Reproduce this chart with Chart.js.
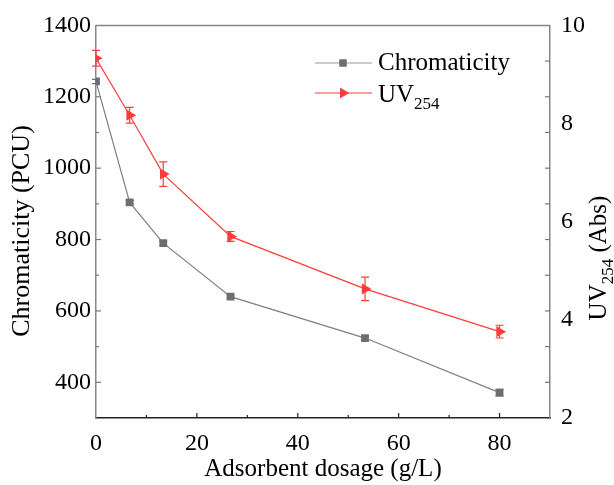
<!DOCTYPE html>
<html>
<head>
<meta charset="utf-8">
<script src="https://cdn.jsdelivr.net/npm/chart.js@4.4.1/dist/chart.umd.min.js"></script>
<style>
  html, body { margin: 0; padding: 0; background: #fff; }
</style>
</head>
<body>
<canvas id="grafico" width="614" height="485"></canvas>
<script>
// dados
const dosage = [0, 6.67, 13.33, 26.67, 53.33, 80]
const chromaticity = [1243, 904, 790, 640, 524, 371]
const chromaErr = [6, 6, 6, 5, 5, 9]
const uv254 = [9.33, 8.17, 6.97, 5.70, 4.63, 3.76]
const uvErr = [0.16, 0.16, 0.25, 0.10, 0.24, 0.13]

const xTicks = [0, 20, 40, 60, 80]
const leftTicks = [400, 600, 800, 1000, 1200, 1400]
const rightTicks = [2, 4, 6, 8, 10]

const FONT = '"Liberation Serif", "Times New Roman", serif'
const GRAY = '#6e6e6e'
const RED = '#ff3c3c'

Chart.defaults.font.family = FONT
Chart.defaults.color = '#000'

// texto com subscrito "254"
function drawUV(ctx, x, y, size, tail, align) {
  ctx.font = size + 'px ' + FONT
  const w1 = ctx.measureText('UV').width
  ctx.font = Math.round(size * 0.68) + 'px ' + FONT
  const w2 = ctx.measureText('254').width
  ctx.font = size + 'px ' + FONT
  const w3 = ctx.measureText(tail).width
  let x0 = align === 'center' ? x - (w1 + w2 + w3) / 2 : x
  ctx.textAlign = 'left'
  ctx.textBaseline = 'alphabetic'
  ctx.fillText('UV', x0, y)
  ctx.font = Math.round(size * 0.68) + 'px ' + FONT
  ctx.fillText('254', x0 + w1, y + size * 0.28)
  ctx.font = size + 'px ' + FONT
  ctx.fillText(tail, x0 + w1 + w2, y)
}

const decor = {
  id: 'decor',
  afterDatasetsDraw(chart) {
    const ctx = chart.ctx
    const xs = chart.scales.x, ys = chart.scales.y, yr = chart.scales.y1
    ctx.save()
    ctx.lineWidth = 1.2
    const bars = [
      [chromaticity, chromaErr, ys, GRAY],
      [uv254, uvErr, yr, RED]
    ]
    bars.forEach(([vals, errs, sc, col]) => {
      ctx.strokeStyle = col
      vals.forEach((v, i) => {
        const px = xs.getPixelForValue(dosage[i])
        const top = sc.getPixelForValue(v + errs[i])
        const bot = sc.getPixelForValue(v - errs[i])
        ctx.beginPath()
        ctx.moveTo(px, top); ctx.lineTo(px, bot)
        ctx.moveTo(px - 4, top); ctx.lineTo(px + 4, top)
        ctx.moveTo(px - 4, bot); ctx.lineTo(px + 4, bot)
        ctx.stroke()
      })
    })
    ctx.restore()
  },
  afterDraw(chart) {
    const ctx = chart.ctx
    const a = chart.chartArea
    const xs = chart.scales.x, ys = chart.scales.y
    ctx.save()

    // moldura superior
    ctx.strokeStyle = '#888'
    ctx.lineWidth = 1.5
    ctx.beginPath()
    ctx.moveTo(a.left, a.top); ctx.lineTo(a.right, a.top)
    ctx.stroke()

    // ticks para dentro
    ctx.lineWidth = 1.2
    ctx.strokeStyle = '#222'
    for (let v = 10; v < 90; v += 10) {
      const px = xs.getPixelForValue(v)
      const len = v % 20 === 0 ? 5 : 3
      ctx.beginPath(); ctx.moveTo(px, a.bottom); ctx.lineTo(px, a.bottom - len); ctx.stroke()
    }
    ctx.strokeStyle = '#777'
    for (let v = 400; v < 1400; v += 100) {
      const py = ys.getPixelForValue(v)
      const len = v % 200 === 0 ? 5 : 3
      ctx.beginPath(); ctx.moveTo(a.left, py); ctx.lineTo(a.left + len, py); ctx.stroke()
      ctx.beginPath(); ctx.moveTo(a.right, py); ctx.lineTo(a.right - 5, py); ctx.stroke()
    }

    // títulos dos eixos
    ctx.fillStyle = '#000'
    ctx.font = '25px ' + FONT
    ctx.textAlign = 'center'
    ctx.textBaseline = 'middle'
    ctx.fillText('Adsorbent dosage (g/L)', (a.left + a.right) / 2, 469)

    ctx.save()
    ctx.translate(22, 231)
    ctx.rotate(-Math.PI / 2)
    ctx.font = '26px ' + FONT
    ctx.fillText('Chromaticity (PCU)', 0, 0)
    ctx.restore()

    ctx.save()
    ctx.translate(606, 258)
    ctx.rotate(-Math.PI / 2)
    drawUV(ctx, 0, 0, 25, ' (Abs)', 'center')
    ctx.restore()

    // legenda
    const rows = [[63, '#999', GRAY, 'rect'], [93, RED, RED, 'triangle']]
    rows.forEach(([y, lineCol, col, style]) => {
      ctx.strokeStyle = lineCol
      ctx.fillStyle = col
      ctx.lineWidth = 1.2
      ctx.beginPath(); ctx.moveTo(315, y); ctx.lineTo(372, y); ctx.stroke()
      Chart.helpers.drawPoint(ctx, {
        pointStyle: style, radius: style === 'rect' ? 5 : 6,
        rotation: style === 'rect' ? 0 : 90, borderWidth: 0
      }, 343, y)
      ctx.fill()
    })
    ctx.fillStyle = '#000'
    ctx.font = '25px ' + FONT
    ctx.textAlign = 'left'
    ctx.textBaseline = 'middle'
    ctx.fillText('Chromaticity', 378, 63)
    drawUV(ctx, 378, 102, 25, '', 'left')

    ctx.restore()
  }
}

const data = {
  datasets: [{
    label: 'Chromaticity',
    data: dosage.map((x, i) => ({ x, y: chromaticity[i] })),
    yAxisID: 'y',
    borderColor: '#808080',
    borderWidth: 1.2,
    backgroundColor: GRAY,
    pointStyle: 'rect',
    pointRadius: 5.5,
    pointBorderWidth: 0
  }, {
    label: 'UV254',
    data: dosage.map((x, i) => ({ x, y: uv254[i] })),
    yAxisID: 'y1',
    borderColor: RED,
    borderWidth: 1.2,
    backgroundColor: RED,
    pointStyle: 'triangle',
    rotation: 90,
    pointRadius: 6.5,
    pointBorderWidth: 0
  }]
}

const tickFont = { family: FONT, size: 24 }
const plain = v => String(v)

const config = {
  type: 'line',
  data,
  options: {
    responsive: false,
    animation: false,
    devicePixelRatio: 1,
    layout: { padding: { top: 22, left: 0, right: 0, bottom: 0 } },
    plugins: { legend: { display: false }, tooltip: { enabled: false } },
    scales: {
      x: {
        type: 'linear', position: 'bottom', min: 0, max: 90,
        grid: { display: false, drawTicks: false },
        border: { color: '#222', width: 1.5 },
        ticks: { font: tickFont, padding: 11, callback: plain },
        afterBuildTicks: s => { s.ticks = xTicks.map(v => ({ value: v })) },
        afterFit: s => { s.height = 67 }
      },
      y: {
        position: 'left', min: 300, max: 1400,
        grid: { display: false, drawTicks: false },
        border: { color: '#888', width: 1.5 },
        ticks: { font: tickFont, padding: 5, callback: plain },
        afterBuildTicks: s => { s.ticks = leftTicks.map(v => ({ value: v })) },
        afterFit: s => { s.width = 96 }
      },
      y1: {
        position: 'right', min: 2, max: 10,
        grid: { display: false, drawTicks: false },
        border: { color: '#888', width: 1.5 },
        ticks: { font: tickFont, padding: 11, callback: plain },
        afterBuildTicks: s => { s.ticks = rightTicks.map(v => ({ value: v })) },
        afterFit: s => { s.width = 64 }
      }
    }
  },
  plugins: [decor]
}

const graph = new Chart(document.getElementById('grafico'), config)
</script>
</body>
</html>
